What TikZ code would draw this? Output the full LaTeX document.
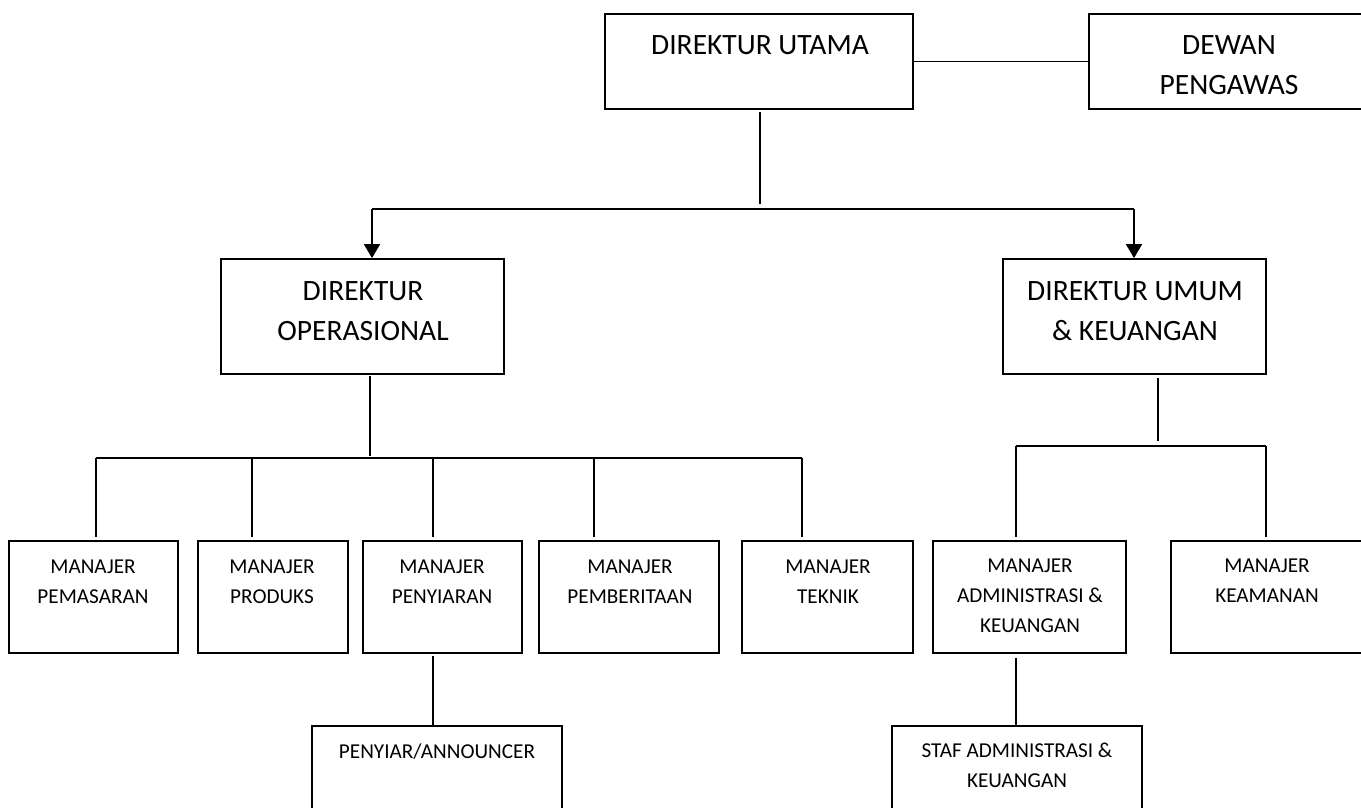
\documentclass[tikz,border=0pt]{standalone}
\usepackage{fontspec}
\setmainfont{Carlito}
\usetikzlibrary{arrows.meta}
\begin{document}
\begin{tikzpicture}[x=1pt,y=-1pt,
  box/.style={draw,line width=1.8pt,rectangle,inner sep=0pt},
  bigtxt/.style={anchor=north,inner sep=0pt,align=center,font=\fontsize{29.5}{40}\selectfont},
  smalltxt/.style={anchor=north,inner sep=0pt,align=center,font=\fontsize{21.2}{30}\selectfont},
  conn/.style={line width=1.8pt},
  arr/.style={line width=1.8pt,-{Triangle[width=16pt,length=14pt]}}]
\useasboundingbox (0,0) rectangle (1361,808);
% boxes
\node[box,minimum width=308pt,minimum height=95pt] (du) at (759,61.5) {};
\node[box,minimum width=281pt,minimum height=95pt] (dp) at (1229.5,61.5) {};
\node[box,minimum width=283pt,minimum height=115pt] (do) at (362.5,316.5) {};
\node[box,minimum width=263pt,minimum height=115pt] (duk) at (1134.5,316.5) {};
\node[box,minimum width=169pt,minimum height=112pt] (m1) at (93.5,597) {};
\node[box,minimum width=150pt,minimum height=112pt] (m2) at (273,597) {};
\node[box,minimum width=159pt,minimum height=112pt] (m3) at (442.5,597) {};
\node[box,minimum width=180pt,minimum height=112pt] (m4) at (629,597) {};
\node[box,minimum width=171pt,minimum height=112pt] (m5) at (827.5,597) {};
\node[box,minimum width=193pt,minimum height=112pt] (ma) at (1029.5,597) {};
\node[box,minimum width=192pt,minimum height=112pt] (mk) at (1267,597) {};
\node[box,minimum width=250pt,minimum height=100pt] (py) at (437,776) {};
\node[box,minimum width=250pt,minimum height=100pt] (st) at (1017,776) {};
% texts
\node[bigtxt] (tdu) at (760,35) {DIREKTUR UTAMA};
\node[bigtxt] (tdp) at (1229,35) {DEWAN\\PENGAWAS};
\node[bigtxt] (tdo) at (363,281) {DIREKTUR\\OPERASIONAL};
\node[bigtxt] (tduk) at (1135,281) {DIREKTUR UMUM\\\& KEUANGAN};
\node[smalltxt] (tm1) at (93,560) {MANAJER\\PEMASARAN};
\node[smalltxt] (tm2) at (272,560) {MANAJER\\PRODUKS};
\node[smalltxt] (tm3) at (442,560) {MANAJER\\PENYIARAN};
\node[smalltxt] (tm4) at (630,560) {MANAJER\\PEMBERITAAN};
\node[smalltxt] (tm5) at (828,560) {MANAJER\\TEKNIK};
\node[smalltxt] (tma) at (1030,559) {MANAJER\\ADMINISTRASI \&\\KEUANGAN};
\node[smalltxt] (tmk) at (1267,559) {MANAJER\\KEAMANAN};
\node[smalltxt] (tpy) at (437,744) {PENYIAR/ANNOUNCER};
\node[smalltxt] (tst) at (1017,743) {STAF ADMINISTRASI \&\\KEUANGAN};
% coordinates
\coordinate (j0) at (760,204);
\coordinate (bl) at (372,209);
\coordinate (br) at (1134,209);
\coordinate (j1) at (370,456);
\coordinate (b1) at (96,458);
\coordinate (b2) at (252,458);
\coordinate (b3) at (433,458);
\coordinate (b4) at (594,458);
\coordinate (b5) at (802,458);
\coordinate (j2) at (1158,441);
\coordinate (c1) at (1016,446);
\coordinate (c2) at (1266,446);
\coordinate (e1) at (96,537);
\coordinate (e2) at (252,537);
\coordinate (e3) at (433,537);
\coordinate (e4) at (594,537);
\coordinate (e5) at (802,537);
\coordinate (f1) at (1016,537);
\coordinate (f2) at (1266,537);
% connectors
\draw[conn] (du.east) -- (dp.west);
\draw[conn] (du.south -| j0) ++(0,2) -- (j0);
\draw[conn] (bl) -- (br);
\draw[arr] (bl) -- (bl |- do.north);
\draw[arr] (br) -- (br |- duk.north);
\draw[conn] (do.south -| j1) ++(0,1) -- (j1);
\draw[conn] (b1) -- (b5);
\draw[conn] (b1) -- (e1);
\draw[conn] (b2) -- (e2);
\draw[conn] (b3) -- (e3);
\draw[conn] (b4) -- (e4);
\draw[conn] (b5) -- (e5);
\draw[conn] (duk.south -| j2) ++(0,3) -- (j2);
\draw[conn] (c1) -- (c2);
\draw[conn] (c1) -- (f1);
\draw[conn] (c2) -- (f2);
\draw[conn] (m3.south -| b3) ++(0,2) -- (py.north -| b3);
\draw[conn] (ma.south -| c1) ++(0,4) -- (st.north -| c1);
\end{tikzpicture}
\end{document}
